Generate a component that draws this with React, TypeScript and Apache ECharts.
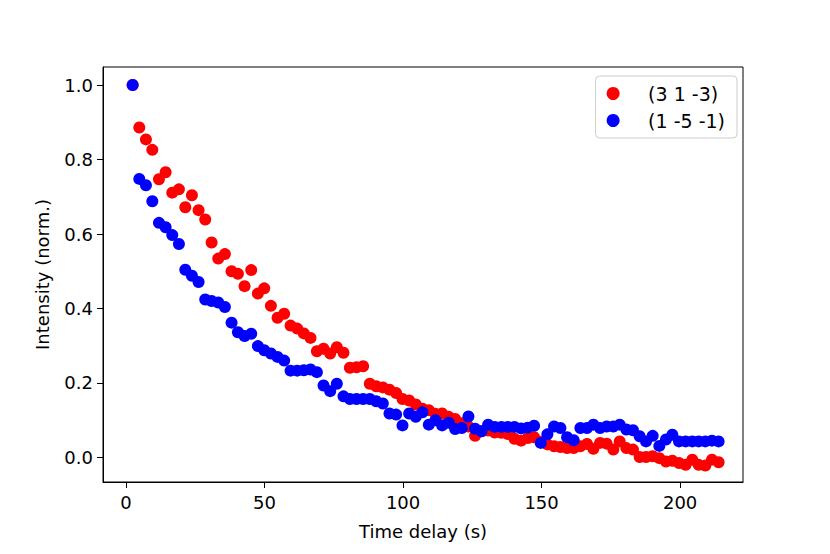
import React, { useEffect, useRef } from "react";
import * as echarts from "echarts";

const times: number[] = [
  2.4, 4.8, 7.2, 9.5, 11.9, 14.3, 16.7, 19.1, 21.4, 23.8,
  26.2, 28.6, 30.9, 33.3, 35.7, 38.1, 40.4, 42.8, 45.2, 47.6,
  49.9, 52.3, 54.7, 57.1, 59.4, 61.8, 64.2, 66.6, 68.9, 71.3,
  73.7, 76.1, 78.5, 80.8, 83.2, 85.6, 88.0, 90.3, 92.7, 95.1,
  97.5, 99.8, 102.2, 104.6, 107.0, 109.3, 111.7, 114.1, 116.5, 118.8,
  121.2, 123.6, 126.0, 128.3, 130.7, 133.1, 135.5, 137.8, 140.2, 142.6,
  145.0, 147.3, 149.7, 152.1, 154.5, 156.8, 159.2, 161.6, 164.0, 166.4,
  168.7, 171.1, 173.5, 175.9, 178.2, 180.6, 183.0, 185.4, 187.7, 190.1,
  192.5, 194.9, 197.2, 199.6, 202.0, 204.4, 206.7, 209.1, 211.5, 213.9,
];

const redValues: number[] = [
  1.0, 0.886, 0.854, 0.826, 0.747, 0.766, 0.711, 0.72, 0.672, 0.704,
  0.664, 0.639, 0.577, 0.534, 0.546, 0.5, 0.493, 0.46, 0.503, 0.44,
  0.454, 0.407, 0.375, 0.386, 0.354, 0.346, 0.333, 0.321, 0.285, 0.292,
  0.279, 0.296, 0.281, 0.241, 0.242, 0.245, 0.198, 0.191, 0.188, 0.182,
  0.173, 0.157, 0.153, 0.142, 0.131, 0.127, 0.117, 0.118, 0.109, 0.103,
  0.092, 0.083, 0.058, 0.07, 0.072, 0.067, 0.066, 0.063, 0.05, 0.045,
  0.052, 0.054, 0.042, 0.035, 0.03, 0.028, 0.025, 0.025, 0.03, 0.036,
  0.023, 0.039, 0.037, 0.021, 0.043, 0.025, 0.021, 0.001, 0.001, 0.003,
  -0.002, -0.011, -0.009, -0.015, -0.02, -0.006, -0.02, -0.022, -0.006, -0.013,
];

const blueValues: number[] = [
  1.0, 0.748, 0.731, 0.688, 0.63, 0.618, 0.597, 0.573, 0.504, 0.488,
  0.471, 0.424, 0.42, 0.416, 0.404, 0.362, 0.336, 0.326, 0.332, 0.299,
  0.288, 0.279, 0.27, 0.26, 0.233, 0.233, 0.234, 0.236, 0.229, 0.193,
  0.178, 0.198, 0.164, 0.157, 0.157, 0.157, 0.157, 0.151, 0.145, 0.118,
  0.115, 0.086, 0.118, 0.109, 0.121, 0.088, 0.1, 0.086, 0.093, 0.076,
  0.079, 0.11, 0.077, 0.07, 0.088, 0.082, 0.082, 0.082, 0.082, 0.078,
  0.08, 0.085, 0.039, 0.062, 0.083, 0.079, 0.054, 0.046, 0.079, 0.079,
  0.088, 0.079, 0.083, 0.083, 0.088, 0.075, 0.073, 0.057, 0.043, 0.058,
  0.031, 0.048, 0.061, 0.043, 0.043, 0.043, 0.043, 0.043, 0.045, 0.043,
];

const seriesNames: string[] = ["(3 1 -3)", "(1 -5 -1)"];
const xTicks: number[] = [0, 50, 100, 150, 200];
const yTicks: number[] = [0, 0.2, 0.4, 0.6, 0.8, 1.0];

const FONT = "DejaVu Sans";

export default function App() {
  const ref = useRef<HTMLDivElement>(null);
  useEffect(() => {
    if (!ref.current) return;
    const chart = echarts.init(ref.current, null, { renderer: "svg" });
    const red = times.map((t, i) => [t, redValues[i]]);
    const blue = times.map((t, i) => [t, blueValues[i]]);
    chart.setOption({
      animation: false,
      backgroundColor: "#ffffff",
      textStyle: { fontFamily: FONT },
      grid: {
        left: 103,
        right: 87,
        top: 67,
        bottom: 72,
        show: true,
        borderColor: "#000000",
        borderWidth: 1,
        backgroundColor: "transparent",
      },
      legend: {
        right: 93,
        top: 76,
        orient: "vertical",
        data: seriesNames,
        itemWidth: 30,
        itemHeight: 13,
        itemGap: 8,
        padding: [8, 12, 8, 11],
        icon: "circle",
        backgroundColor: "rgba(255,255,255,0.8)",
        borderColor: "#cccccc",
        borderWidth: 1,
        borderRadius: 4,
        textStyle: {
          fontFamily: FONT,
          fontSize: 19,
          color: "#000000",
          padding: [0, 0, 0, 15],
        },
      },
      xAxis: {
        type: "value",
        min: -8.3,
        max: 222.7,
        name: "Time delay (s)",
        nameLocation: "middle",
        nameGap: 40,
        nameTextStyle: { fontFamily: FONT, fontSize: 18, color: "#000000" },
        axisLine: { onZero: false, lineStyle: { color: "#000000", width: 1 } },
        axisTick: {
          show: true,
          inside: false,
          length: 6,
          customValues: xTicks,
          lineStyle: { color: "#000000", width: 1 },
        },
        axisLabel: {
          customValues: xTicks,
          fontFamily: FONT,
          fontSize: 18,
          color: "#000000",
          margin: 11,
        },
        splitLine: { show: false },
      },
      yAxis: {
        type: "value",
        min: -0.066,
        max: 1.0485,
        name: "Intensity (norm.)",
        nameLocation: "middle",
        nameGap: 52,
        nameTextStyle: { fontFamily: FONT, fontSize: 18, color: "#000000" },
        axisLine: { show: true, onZero: false, lineStyle: { color: "#000000", width: 1 } },
        axisTick: {
          show: true,
          inside: false,
          length: 6,
          customValues: yTicks,
          lineStyle: { color: "#000000", width: 1 },
        },
        axisLabel: {
          customValues: yTicks,
          fontFamily: FONT,
          fontSize: 18,
          color: "#000000",
          margin: 10,
          formatter: (v: number) => v.toFixed(1),
        },
        splitLine: { show: false },
      },
      series: [
        {
          name: seriesNames[0],
          type: "scatter",
          data: red,
          symbol: "circle",
          symbolSize: 12,
          itemStyle: { color: "#ff0000", opacity: 1 },
        },
        {
          name: seriesNames[1],
          type: "scatter",
          data: blue,
          symbol: "circle",
          symbolSize: 12,
          itemStyle: { color: "#0000ff", opacity: 1 },
        },
      ],
    });
    return () => chart.dispose();
  }, []);
  return (
    <div
      ref={ref}
      style={{ position: "fixed", left: 0, top: 0, width: 830, height: 554 }}
    />
  );
}
